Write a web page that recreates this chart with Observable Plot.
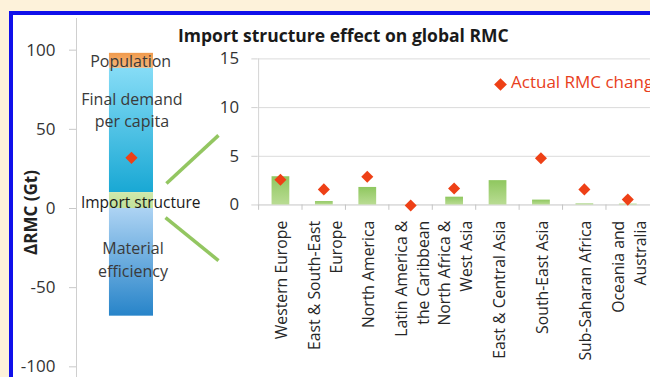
<!DOCTYPE html>
<html>
<head>
<meta charset="utf-8">
<script src="https://cdn.jsdelivr.net/npm/d3@7"></script>
<script src="https://cdn.jsdelivr.net/npm/@observablehq/plot@0.6"></script>
<style>
  html, body { margin: 0; padding: 0; }
  body { width: 650px; height: 377px; overflow: hidden; font-family: "Open Sans", sans-serif; }
  #page { position: relative; width: 650px; height: 377px; overflow: hidden; background: #fdf2da; }
  #frame { position: absolute; left: 9px; top: 11px; right: 0; bottom: 0; background: #1010ea; }
  #paper { position: absolute; left: 13px; top: 15px; right: 0; bottom: 0; background: #fff; }
  #left { position: absolute; left: 14px; top: 15px; }
  #right { position: absolute; left: 200px; top: 15px; }
  #title { position: absolute; left: 178px; top: 27px; font-size: 17.5px; line-height: 17px; font-weight: bold; color: #1a1a1a; white-space: nowrap; }
  #legend { position: absolute; left: 496px; top: 72px; font-size: 17px; line-height: 20px; color: #e8401c; white-space: nowrap; }
  #legend .dia { display: inline-block; width: 9px; height: 9px; background: #ee4016; transform: rotate(45deg); margin-right: 6px; vertical-align: -1px; }
  svg { overflow: visible; }
</style>
</head>
<body>
<div id="page">
  <div id="frame"></div>
  <div id="paper"></div>
  <div id="left"></div>
  <div id="right"></div>
  <div id="title">Import structure effect on global RMC</div>
  <div id="legend"><span class="dia"></span>Actual RMC change</div>
</div>
<script>
// Decomposition of the global change in raw material consumption (Gt)
const leftTicks = [-100, -50, 0, 50, 100];
const factors = ["Population", "Final demand per capita", "Import structure", "Material efficiency"];
const factorLabels = ["Population", "Final demand\nper capita", "Import structure", "Material\nefficiency"];
const factorFrom = [88.5, 10, 0, 0];
const factorTo = [98, 88.5, 10, -68];
const actualTotal = 32;

// Import structure effect by region (Gt)
const regions = [
  "Western Europe", "East & South-East Europe", "North America",
  "Latin America & the Caribbean", "North Africa & West Asia", "East & Central Asia",
  "South-East Asia", "Sub-Saharan Africa", "Oceania and Australia"
];
const regionLabels = [
  "Western Europe", "East & South-East\nEurope", "North America",
  "Latin America &\nthe Caribbean", "North Africa &\nWest Asia", "East & Central Asia",
  "South-East Asia", "Sub-Saharan Africa", "Oceania and\nAustralia"
];
const importEffect = [2.9, 0.35, 1.8, 0.02, 0.8, 2.5, 0.5, 0.1, 0.08];
const actualChange = [2.6, 1.6, 2.9, -0.05, 1.7, null, 4.8, 1.6, 0.55];
const rightTicks = [0, 5, 10, 15];

const segmentColors = [
  ["#f09a4c", "#f7b57a"],
  ["#86dcf6", "#19a8d4"],
  ["#cfe8ab", "#c2e19a"],
  ["#add3f3", "#2784c9"]
];

function gradients(list) {
  return () => {
    const defs = d3.create("svg:defs");
    for (const g of list) {
      const lg = defs.append("linearGradient").attr("id", g.id)
        .attr("x1", 0).attr("y1", 0).attr("x2", 0).attr("y2", 1);
      lg.append("stop").attr("offset", "0%").attr("stop-color", g.top);
      lg.append("stop").attr("offset", "100%").attr("stop-color", g.bottom);
    }
    return defs.node();
  };
}

// ---- Left panel: stacked decomposition bar ----
const segments = factors.map((f, i) => ({
  factor: f, label: factorLabels[i], from: factorFrom[i], to: factorTo[i], fill: `url(#seg${i})`
}));
const barX1 = 21.4, barX2 = 50, barMid = (barX1 + barX2) / 2;
const labelY = [93.7, 63, 5, -31.5];
const labelX = [barMid - 0.5, barMid + 0.3, barMid + 6, barMid + 1];

const leftPlot = Plot.plot({
  width: 216, height: 400,
  marginLeft: 62, marginRight: 0, marginTop: 3, marginBottom: 17,
  style: { fontFamily: "Open Sans", background: "transparent", color: "#333" },
  x: { domain: [0, 100], axis: null },
  y: { domain: [-120, 120] },
  color: { type: "identity" },
  marks: [
    gradients(segmentColors.map((c, i) => ({ id: `seg${i}`, top: c[0], bottom: c[1] }))),
    Plot.ruleX([0], { stroke: "#cfcfcf" }),
    Plot.axisY({ ticks: leftTicks, tickFormat: d => String(d), tickSize: 7, tickPadding: 14, fontSize: 17, stroke: "#c8c8c8", fill: "#333" }),
    Plot.text(["ΔRMC (Gt)"], { frameAnchor: "left", textAnchor: "middle", rotate: -90, dx: -45, dy: 4, fontSize: 17, fontWeight: "bold", fill: "#222" }),
    Plot.rect(segments, { x1: barX1, x2: barX2, y1: "from", y2: "to", fill: "fill" }),
    Plot.link([
      { x1: 58.4, y1: 15.8, x2: 92.2, y2: 46.2 },
      { x1: 57.8, y1: -5.7, x2: 92.2, y2: -32.9 }
    ], { x1: "x1", y1: "y1", x2: "x2", y2: "y2", stroke: "#93c661", strokeWidth: 3.5 }),
    Plot.text(segments, {
      x: (d, i) => labelX[i], y: (d, i) => labelY[i], text: "label",
      fontSize: (d, i) => i === 2 ? 15.5 : 16,
      fontWeight: (d, i) => i === 2 ? "bold" : "normal",
      fill: (d, i) => i === 2 ? "#1a1a1a" : "#3a3a3a",
      lineHeight: 1.42
    }),
    Plot.dot([actualTotal], { x: barMid, y: d => d, symbol: "diamond2", r: 5.5, fill: "#ee4016", stroke: "none" })
  ]
});
document.getElementById("left").appendChild(leftPlot);

// ---- Right panel: import structure effect per region ----
const rightWidth = 456, rightML = 58, rightMR = 0;
const bw = (rightWidth - rightML - rightMR) / regions.length;
const regionData = regions.map((r, i) => ({ region: r, label: regionLabels[i], effect: importEffect[i], actual: actualChange[i] }));

const rightPlot = Plot.plot({
  width: rightWidth, height: 362,
  marginLeft: rightML, marginRight: rightMR, marginTop: 44, marginBottom: 170,
  style: { fontFamily: "Open Sans", background: "transparent", color: "#333" },
  x: { domain: regions, padding: 0, axis: null },
  y: { domain: [0, 15] },
  marks: [
    gradients([{ id: "barGreen", top: "#8fc75f", bottom: "#b9dc93" }]),
    Plot.ruleY([5, 10, 15], { stroke: "#dadada" }),
    Plot.ruleX(regions.slice(0, 1), { x: d => d, dx: -bw / 2, y1: 0, y2: 15, stroke: "#d3d3d3" }),
    Plot.ruleY([0], { stroke: "#c4c4c4" }),
    Plot.ruleX(regions, { x: d => d, dx: -bw / 2, y1: 0, y2: -0.55, stroke: "#c4c4c4" }),
    Plot.axisY({ ticks: rightTicks, tickFormat: d => String(d), tickSize: 6, tickPadding: 13, fontSize: 17, stroke: "#d0d0d0", fill: "#333" }),
    Plot.barY(regionData, { x: "region", y: "effect", fill: "url(#barGreen)", insetLeft: 13.5, insetRight: 12.5 }),
    Plot.dot(regionData, { x: "region", y: "actual", symbol: "diamond2", r: 5.5, fill: "#ee4016", stroke: "none" }),
    Plot.text(regionData, {
      x: "region", y: 0, text: "label", rotate: -90, textAnchor: "end", lineAnchor: "middle",
      dy: 16, fontSize: 16, lineHeight: 1.38, fill: "#262626"
    })
  ]
});
document.getElementById("right").appendChild(rightPlot);
</script>
</body>
</html>
